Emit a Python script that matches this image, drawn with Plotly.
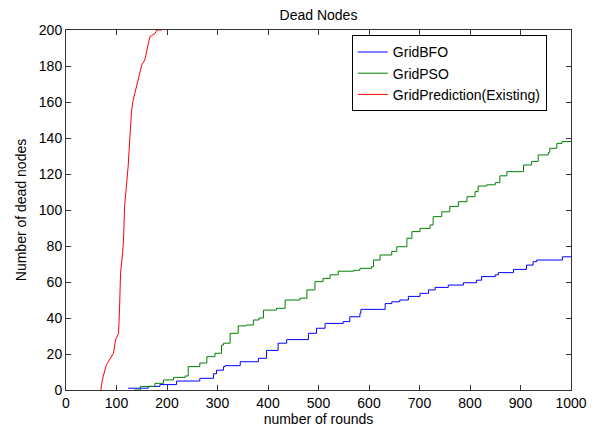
import plotly.graph_objects as go

# GridBFO (blue)
bfo_x = [123, 163, 186, 219, 265, 292, 298, 312, 315, 345, 381, 397, 420, 437, 477, 480, 496, 513, 549, 562,
         582, 584, 625, 632, 645, 661, 678, 701, 718, 731, 757, 787, 813, 823, 850, 856, 886, 912, 925, 932, 983, 1000]
bfo_y = [1, 2, 3, 5, 6.5, 9, 11, 13, 13.5, 15.7, 17.6, 22, 26, 28, 28, 31.5, 34.3, 37, 38, 40.7,
         42.6, 44.8, 44.8, 48, 49, 50, 52, 53.7, 55.6, 57, 58.3, 59.6, 61, 63, 64, 65.2, 67, 69.4, 71.3, 72.2, 74, 74]

# GridPSO (green)
pso_x = [135, 147, 176, 193, 213, 236, 242, 265, 279, 295, 308, 312, 325, 341, 357, 371, 382, 391, 417, 434,
         463, 477, 493, 509, 523, 539, 570, 582, 605, 609, 622, 645, 655, 671, 675, 685, 701, 721, 727, 744,
         760, 777, 794, 810, 816, 833, 850, 859, 873, 902, 906, 922, 935, 955, 958, 972, 982, 1000]
pso_y = [0, 2, 3.7, 5.6, 7, 7.8, 13, 15, 18.5, 20.4, 25, 26, 31.5, 35.6, 36.1, 38.9, 40, 44.4, 45.4, 50,
         51, 55.6, 60.2, 62, 64, 66, 66.5, 67.6, 68.5, 72.2, 75, 77, 79.6, 79.6, 84.3, 88, 89.8, 91.7, 96.3, 99,
         102, 104.6, 107.4, 110.2, 113.3, 114, 115.2, 119, 121.3, 121.3, 125, 127, 130.6, 132, 134.3, 137, 138, 138]

# GridPrediction(Existing) (red)
pred_x = [69, 72, 80, 87, 94, 98, 104, 106, 108, 112, 114, 116, 120, 123, 127, 130, 133, 140, 145, 150,
          156, 161, 166, 176, 180, 190]
pred_y = [0, 5.6, 14, 17, 20.4, 27.8, 31.5, 44.4, 64.8, 76, 83.3, 102, 113, 124, 142.6, 155.6, 161, 168.5, 175, 180.6,
          183.3, 190.7, 196.3, 198, 200, 200]

x_ticks = list(range(0, 1001, 100))
y_ticks = list(range(0, 201, 20))

FONT = "Liberation Sans, Arial, sans-serif"

fig = go.Figure()
fig.add_trace(go.Scatter(x=bfo_x, y=bfo_y, mode="lines", line=dict(color="#0000ff", width=1, shape="hv"), name="GridBFO"))
fig.add_trace(go.Scatter(x=pso_x, y=pso_y, mode="lines", line=dict(color="#008000", width=1, shape="hv"), name="GridPSO"))
fig.add_trace(go.Scatter(x=pred_x, y=pred_y, mode="lines", line=dict(color="#ff0000", width=1, shape="linear"), name="GridPrediction(Existing)"))

axis_common = dict(showgrid=False, zeroline=False, showline=True, mirror="ticks", linecolor="#333333", linewidth=1,
                   ticks="inside", ticklen=5, tickcolor="#333333", automargin=False,
                   tickfont=dict(family=FONT, size=14, color="#000000"))

fig.update_layout(
    width=599, height=429,
    margin=dict(l=66, r=28, t=30, b=39),
    paper_bgcolor="white", plot_bgcolor="white",
    font=dict(family=FONT, size=14, color="#000000"),
    title=dict(text="Dead Nodes", x=(66 + 571) / 2 / 599, xanchor="center", y=1 - 15 / 429, yanchor="middle",
               font=dict(family=FONT, size=14, color="#000000")),
    xaxis=dict(range=[0, 1000], tickvals=x_ticks, title=dict(text="number of rounds", standoff=3, font=dict(family=FONT, size=14)), **axis_common),
    yaxis=dict(range=[0, 200], tickvals=y_ticks, title=dict(text="Number of dead nodes", standoff=8, font=dict(family=FONT, size=14)), **axis_common),
    legend=dict(x=0.566, y=0.985, xanchor="left", yanchor="top", bordercolor="#000000", borderwidth=1,
                bgcolor="white", font=dict(family=FONT, size=14, color="#000000"), tracegroupgap=0),
    showlegend=True,
)

fig.write_html("out.html")
